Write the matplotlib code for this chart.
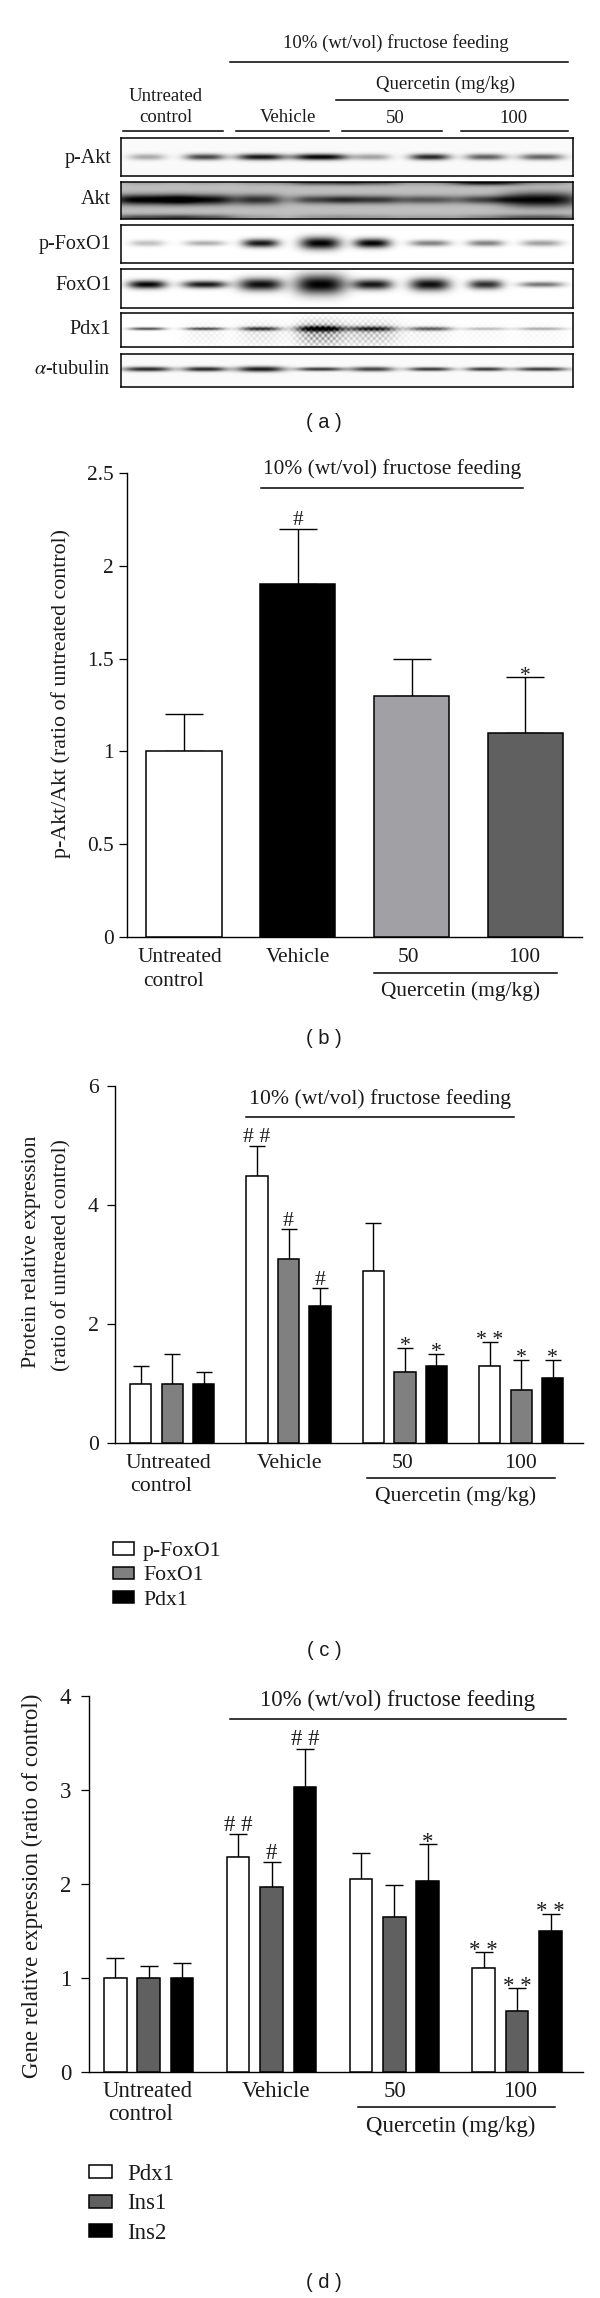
import matplotlib
matplotlib.use('Agg')
import matplotlib.pyplot as plt
import numpy as np
from matplotlib.patches import Patch

W, H = 600, 2298
plt.rcParams['font.family'] = ['Liberation Serif', 'DejaVu Serif']
plt.rcParams['mathtext.fontset'] = 'stix'

HEADER = '10% (wt/vol) fructose feeding'
QUERCETIN = 'Quercetin (mg/kg)'
TEXT_COLOR = '#1a1a1a'

# panel a: band darkness per lane
blot_names = ['p-Akt', 'Akt', 'p-FoxO1', 'FoxO1', 'Pdx1', r'$\alpha$-tubulin']
pakt_dark = [0.32, 0.72, 0.92, 1.0, 0.35, 0.85, 0.62, 0.6]
akt_dark = [0.8, 0.72, 0.55, 0.5, 0.55, 0.42, 0.5, 0.75]
akt_low = [0.45, 0.4, 0.12, 0.15, 0.15, 0.12, 0.2, 0.4]
akt_high = [0.1, 0.1, 0.15, 0.45, 0.4, 0.15, 0.7, 0.2]
pfoxo1_dark = [0.25, 0.32, 0.92, 1.0, 1.0, 0.5, 0.5, 0.38]
foxo1_dark = [1.0, 0.92, 0.95, 1.0, 0.92, 0.95, 0.82, 0.55]
pdx1_dark = [0.75, 0.75, 0.8, 1.0, 0.8, 0.65, 0.28, 0.35]
tubulin_dark = [0.85, 0.85, 0.9, 0.8, 0.75, 0.8, 0.8, 0.8]
pdx1_halo = [0.0, 0.08, 0.14, 0.55, 0.32, 0.08, 0.04, 0.04]

# panel b
b_values = [1.0, 1.9, 1.3, 1.1]
b_tops = [1.2, 2.2, 1.5, 1.4]
b_colors = ['white', 'black', '#a1a1a5', '#606060']
b_sig = ['', '#', '', '*']
b_ticks = [0, 0.5, 1, 1.5, 2, 2.5]
b_ticklabels = ['0', '0.5', '1', '1.5', '2', '2.5']

# panel c
c_names = ['p-FoxO1', 'FoxO1', 'Pdx1']
c_values = [[1.0, 4.5, 2.9, 1.3], [1.0, 3.1, 1.2, 0.9], [1.0, 2.3, 1.3, 1.1]]
c_tops = [[1.3, 5.0, 3.7, 1.7], [1.5, 3.6, 1.6, 1.4], [1.2, 2.6, 1.5, 1.4]]
c_sig = [['', '##', '', '**'], ['', '#', '*', '*'], ['', '#', '*', '*']]
c_colors = ['white', '#808080', 'black']
c_ticks = [0, 2, 4, 6]

# panel d
d_names = ['Pdx1', 'Ins1', 'Ins2']
d_values = [[1.0, 2.29, 2.05, 1.10], [1.0, 1.97, 1.65, 0.65], [1.0, 3.03, 2.03, 1.50]]
d_tops = [[1.21, 2.53, 2.33, 1.27], [1.13, 2.23, 1.99, 0.89], [1.16, 3.44, 2.42, 1.68]]
d_sig = [['', '##', '', '**'], ['', '#', '', '**'], ['', '##', '*', '**']]
d_colors = ['white', '#606060', 'black']
d_ticks = [0, 1, 2, 3, 4]


def px_axes(fig, left, top, right, bottom):
    return fig.add_axes([left / W, 1 - bottom / H, (right - left) / W, (bottom - top) / H])


def put_text(fig, x, y, s, size, ha='center', **kwargs):
    fig.text(x / W, 1 - y / H, s, fontsize=size, ha=ha, va='center',
             color=TEXT_COLOR, **kwargs)


def put_line(fig, x0, x1, y, lw=1.1):
    fig.add_artist(plt.Line2D([x0 / W, x1 / W], [1 - y / H, 1 - y / H],
                              color='black', lw=lw))


def blot_image(dark, y_frac, sig_x, sig_y, width, height, base=0.0):
    lanes = (np.array([380, 530, 675, 830, 965, 1115, 1260, 1405]) - 313) / 2.6
    xx, yy = np.meshgrid(np.arange(width), np.arange(height))
    img = np.full((height, width), float(base))
    for lane, d, sx, sy in zip(lanes, dark, sig_x, sig_y):
        band = np.exp(-np.abs((xx - lane) / sx) ** 3 - ((yy - y_frac * height) / sy) ** 2)
        img = img + d * band
    return img


def draw_blot(fig, top, bottom, img):
    ax = px_axes(fig, 120.5, top, 572.5, bottom)
    ax.imshow(np.clip(1 - img, 0, 1), cmap='gray', vmin=0, vmax=1, aspect='auto',
              interpolation='bilinear')
    ax.set_xticks([])
    ax.set_yticks([])
    for spine in ax.spines.values():
        spine.set_linewidth(1.1)
    return ax


def panel_a(fig):
    size = 13.5
    put_text(fig, 396, 43.3, HEADER, size)
    put_line(fig, 230, 568, 62)
    put_text(fig, 446, 84, QUERCETIN, size)
    put_line(fig, 336, 568, 99.7)
    put_text(fig, 166, 96.6, 'Untreated', size)
    put_text(fig, 166, 117, 'control', size)
    put_text(fig, 288, 118, 'Vehicle', size)
    put_text(fig, 395, 118.7, '50', size)
    put_text(fig, 513, 118.7, '100', size)
    for x0, x1 in [(123, 223), (236, 329), (342, 442), (461, 568)]:
        put_line(fig, x0, x1, 130.9)

    boxes = [(137.7, 176), (181.7, 219.3), (225, 263.3), (268.7, 308), (313.3, 346.7), (354, 387.3)]
    label_y = [159, 200, 245, 285, 329, 369]
    w = 452
    heights = [int(b - t) for t, b in boxes]

    akt = blot_image(akt_dark, 0.48, [38, 34, 22, 30, 34, 26, 30, 38], [5, 5, 5, 4, 4, 4, 4, 7], w, heights[1], 0.25)
    akt = akt + blot_image(akt_low, 0.95, [38, 34, 22, 30, 34, 26, 30, 38], [3] * 8, w, heights[1])
    akt = akt + blot_image(akt_high, 0.02, [26, 26, 26, 34, 30, 26, 34, 30], [3] * 8, w, heights[1])
    imgs = [
        blot_image(pakt_dark, 0.5, [18, 20, 24, 28, 18, 20, 20, 22], [3] * 8, w, heights[0], 0.02),
        akt,
        blot_image(pfoxo1_dark, 0.48, [17, 20, 18, 20, 18, 20, 18, 20], [3, 2.6, 4, 6, 4.5, 3, 3, 3], w, heights[2]),
        blot_image(foxo1_dark, 0.4, [19, 22, 22, 25, 20, 20, 17, 22], [4, 3.5, 6, 9.5, 5, 6, 4.5, 2.6], w, heights[3]),
        blot_image(pdx1_dark, 0.45, [18, 20, 20, 24, 24, 22, 22, 24], [1.3, 1.3, 1.8, 2.6, 2.2, 1.8, 1.3, 1.3], w, heights[4]),
        blot_image(tubulin_dark, 0.46, [24, 22, 24, 24, 22, 22, 20, 26], [2.2, 2.2, 2.6, 1.8, 2.2, 1.8, 1.8, 1.8], w, heights[5], 0.02),
    ]
    # halftone halo around the strong Pdx1 lanes
    halo = blot_image(pdx1_halo, 0.6, [22, 22, 24, 24, 28, 24, 24, 24], [12] * 8, w, heights[4])
    xx, yy = np.meshgrid(np.arange(w), np.arange(heights[4]))
    imgs[4] = imgs[4] + halo * (0.5 + 0.5 * np.sin(xx * 1.1) * np.sin(yy * 1.1))

    for (t, b), ly, name, img in zip(boxes, label_y, blot_names, imgs):
        draw_blot(fig, t, b, img)
        put_text(fig, 111, ly, name, 14.5, ha='right')
    put_text(fig, 324, 422.7, '( a )', 14.5, family='Liberation Sans')


def setup_axes(ax, ymax, ticks, ticklabels, size, tick_pad):
    ax.set_ylim(0, ymax)
    ax.set_yticks(ticks)
    ax.set_yticklabels(ticklabels, fontsize=size, color=TEXT_COLOR)
    ax.set_xticks([])
    ax.tick_params(axis='y', length=5.5, width=0.9, pad=tick_pad)
    ax.spines['top'].set_visible(False)
    ax.spines['right'].set_visible(False)
    ax.spines['left'].set_linewidth(1.0)
    ax.spines['bottom'].set_linewidth(1.0)
    ax.patch.set_alpha(0)


def draw_sig(ax, x, top, sig, size):
    if not sig:
        return
    offset = 2.5 if sig[0] == '#' else -2.5
    ax.annotate(' '.join(sig) if sig in ('##', '**') else sig, (x, top), xytext=(0, offset),
                textcoords='offset points', ha='center', va='baseline',
                fontsize=size, color=TEXT_COLOR, annotation_clip=False)


def draw_bars(ax, x, values, tops, color, width, sig, cap, size):
    ax.bar(x, values, width=width, color=color, edgecolor='black', linewidth=1.1, zorder=3,
           clip_on=False)
    err = np.array(tops) - np.array(values)
    ax.errorbar(x, values, yerr=[np.zeros_like(err), err], fmt='none', ecolor='black',
                elinewidth=1.0, capsize=cap, capthick=1.0, zorder=2, clip_on=False)
    for xi, top, s in zip(x, tops, sig):
        draw_sig(ax, xi, top, s, size)


def panel_b(fig):
    size = 15.4
    ax = px_axes(fig, 127.3, 473, 582, 937)
    ax.set_xlim(-0.4956, 3.4965)
    setup_axes(ax, 2.5, b_ticks, b_ticklabels, size, 4)
    draw_bars(ax, np.arange(4), b_values, b_tops, b_colors, 0.663, b_sig, 14, size)
    put_text(fig, 61.5, 693, 'p-Akt/Akt (ratio of untreated control)', 15.8, rotation=90)
    put_text(fig, 392, 469, HEADER, size)
    put_line(fig, 261, 523, 487.7)
    put_text(fig, 180, 958, 'Untreated', size)
    put_text(fig, 173, 981.5, 'control', size)
    put_text(fig, 298, 958, 'Vehicle', size)
    put_text(fig, 408.5, 958, '50', size)
    put_text(fig, 524, 958, '100', size)
    put_line(fig, 374, 557, 973)
    put_text(fig, 461, 991.5, QUERCETIN, size)
    put_text(fig, 324, 1039, '( b )', 14.5, family='Liberation Sans')


def grouped_panel(fig, box, first_mid, group_gap, inner_gap, bar_w, ymax, ticks,
                  values, tops, sigs, colors, names, size, cap, tick_pad, legend_box):
    left, top, right, bottom = box
    ax = px_axes(fig, left, top, right, bottom)
    ax.set_xlim((left - first_mid) / group_gap, (right - first_mid) / group_gap)
    setup_axes(ax, ymax, ticks, [str(t) for t in ticks], size, tick_pad)
    groups = np.arange(4)
    for i in range(3):
        draw_bars(ax, groups + (i - 1) * inner_gap / group_gap, values[i], tops[i], colors[i],
                  bar_w / group_gap, sigs[i], cap, size)
    handles = [Patch(facecolor=c, edgecolor='black', linewidth=1.1) for c in colors]
    fontpx = size * 100 / 72
    lx, ly, spacing, hw, hh, pad = legend_box
    fig.legend(handles, names, loc='upper left', bbox_to_anchor=(lx / W, 1 - ly / H),
               frameon=False, fontsize=size, borderpad=0, borderaxespad=0,
               labelspacing=(spacing - fontpx) / fontpx, handlelength=hw / fontpx,
               handleheight=hh / fontpx, handletextpad=pad / fontpx,
               labelcolor=TEXT_COLOR)


def panel_c(fig):
    size = 15.7
    grouped_panel(fig, (114.6, 1086.4, 582.7, 1443), 172.1, 116.4, 31.5, 21.2, 6, c_ticks,
                  c_values, c_tops, c_sig, c_colors, c_names, size, 6, 6,
                  (113, 1542, 27.3, 21, 11, 9))
    put_text(fig, 32, 1252, 'Protein relative expression', size, rotation=90)
    put_text(fig, 61.5, 1255.5, '(ratio of untreated control)', size, rotation=90)
    put_text(fig, 380, 1099.4, HEADER, size)
    put_line(fig, 246, 513.5, 1117.2)
    put_text(fig, 168.5, 1463, 'Untreated', size)
    put_text(fig, 161.5, 1486.4, 'control', size)
    put_text(fig, 289.6, 1463, 'Vehicle', size)
    put_text(fig, 402.7, 1463, '50', size)
    put_text(fig, 520, 1463, '100', size)
    put_line(fig, 367, 555, 1477.7)
    put_text(fig, 456, 1496.6, QUERCETIN, size)
    put_text(fig, 324, 1650, '( c )', 14.5, family='Liberation Sans')


def panel_d(fig):
    size = 16.5
    grouped_panel(fig, (88.5, 1696, 582.7, 2071.7), 148.7, 122.8, 33.4, 22.7, 4, d_ticks,
                  d_values, d_tops, d_sig, d_colors, d_names, size, 6.5, 7,
                  (89, 2164, 31.4, 23, 11, 15))
    put_text(fig, 32.7, 1886, 'Gene relative expression (ratio of control)', size, rotation=90)
    put_text(fig, 398, 1700, HEADER, size)
    put_line(fig, 230, 566, 1718.9)
    put_text(fig, 148, 2091.3, 'Untreated', size)
    put_text(fig, 141, 2114.5, 'control', size)
    put_text(fig, 276, 2091.3, 'Vehicle', size)
    put_text(fig, 395, 2091.3, '50', size)
    put_text(fig, 520, 2091.3, '100', size)
    put_line(fig, 358, 555, 2107)
    put_text(fig, 451, 2126.5, QUERCETIN, size)
    put_text(fig, 324, 2282, '( d )', 14.5, family='Liberation Sans')


def main():
    fig = plt.figure(figsize=(W / 100, H / 100), dpi=100)
    panel_a(fig)
    panel_b(fig)
    panel_c(fig)
    panel_d(fig)
    fig.savefig('out.png', dpi=100)
    plt.close(fig)


if __name__ == '__main__':
    main()
